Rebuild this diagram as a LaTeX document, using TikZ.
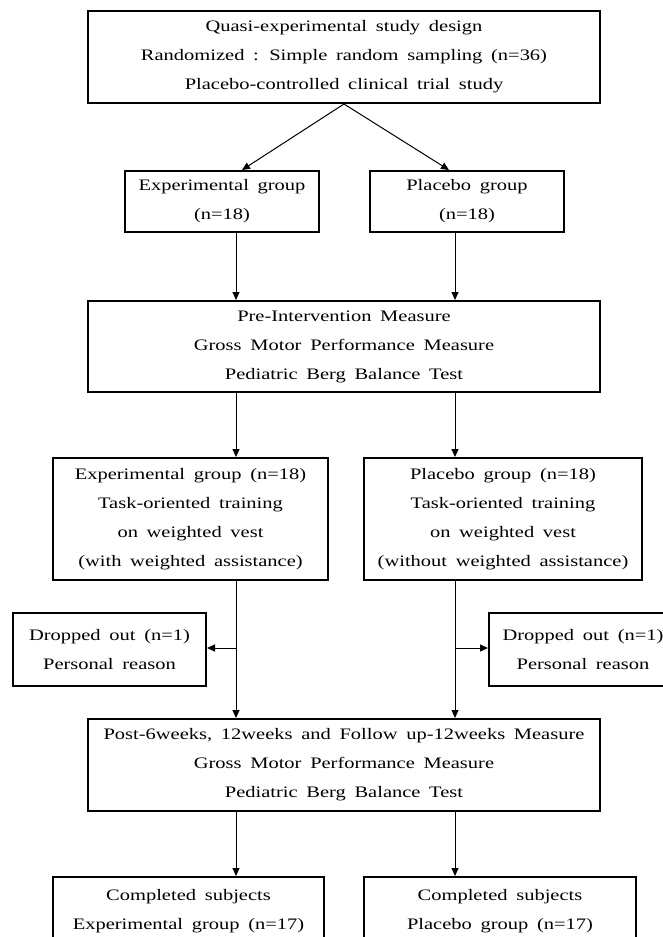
\documentclass[tikz,border=0pt]{standalone}
\usepackage{fontspec}
\setmainfont{Liberation Serif}[FakeStretch=1.28,WordSpace=1.7]
\usetikzlibrary{arrows.meta,calc}
\begin{document}
\begin{tikzpicture}[x=1pt,y=-1pt,
  box/.style={draw,line width=2pt,align=center,inner sep=0pt,
    font=\fontsize{16}{29}\selectfont},
  arr/.style={line width=1pt,-{Triangle[length=8pt,width=7pt]}}]
\useasboundingbox (0,0) rectangle (663,937);
\clip (0,0) rectangle (663,937);
\fill[white] (0,0) rectangle (663,937);
\coordinate (colL) at (236,0);
\coordinate (colR) at (455,0);
\node[box,minimum width=512pt,minimum height=92pt] (top) at (344,57)
  {Quasi-experimental study design\\Randomized : Simple random sampling (n=36)\\Placebo-controlled clinical trial study};
\node[box,minimum width=194pt,minimum height=61pt] (expA) at (222,201.5)
  {Experimental group\\(n=18)};
\node[box,minimum width=194pt,minimum height=61pt] (plcA) at (467,201.5)
  {Placebo group\\(n=18)};
\node[box,minimum width=512pt,minimum height=91pt] (pre) at (344,346.5)
  {Pre-Intervention Measure\\Gross Motor Performance Measure\\Pediatric Berg Balance Test};
\node[box,minimum width=275pt,minimum height=122pt] (expB) at (190.5,519)
  {Experimental group (n=18)\\Task-oriented training\\on weighted vest\\(with weighted assistance)};
\node[box,minimum width=278pt,minimum height=122pt] (plcB) at (503,519)
  {Placebo group (n=18)\\Task-oriented training\\on weighted vest\\(without weighted assistance)};
\node[box,minimum width=193pt,minimum height=73pt] (dropL) at (109.5,649.5)
  {Dropped out (n=1)\\Personal reason};
\node[box,minimum width=188pt,minimum height=73pt] (dropR) at (583,649.5)
  {Dropped out (n=1)\\Personal reason};
\node[box,minimum width=512pt,minimum height=92pt] (post) at (344,765)
  {Post-6weeks, 12weeks and Follow up-12weeks Measure\\Gross Motor Performance Measure\\Pediatric Berg Balance Test};
\node[box,minimum width=271pt,minimum height=69pt] (compL) at (188.5,911.5)
  {Completed subjects\\Experimental group (n=17)};
\node[box,minimum width=272pt,minimum height=69pt] (compR) at (500,911.5)
  {Completed subjects\\Placebo group (n=17)};
\draw[arr] (top.south) -- ($(expA.north)+(20,0)$);
\draw[arr] (top.south) -- ($(plcA.north)+(-18,0)$);
\draw[arr] (expA.south -| colL) -- (pre.north -| colL);
\draw[arr] (plcA.south -| colR) -- (pre.north -| colR);
\draw[arr] (pre.south -| colL) -- (expB.north -| colL);
\draw[arr] (pre.south -| colR) -- (plcB.north -| colR);
\draw[arr] (expB.south -| colL) -- (post.north -| colL);
\draw[arr] (plcB.south -| colR) -- (post.north -| colR);
\draw[arr] ($(dropL.east -| colL)+(0,-1.5)$) -- ($(dropL.east)+(0,-1.5)$);
\draw[arr] ($(dropR.west -| colR)+(0,-1.5)$) -- ($(dropR.west)+(0,-1.5)$);
\draw[arr] (post.south -| colL) -- (compL.north -| colL);
\draw[arr] (post.south -| colR) -- (compR.north -| colR);
\end{tikzpicture}
\end{document}
